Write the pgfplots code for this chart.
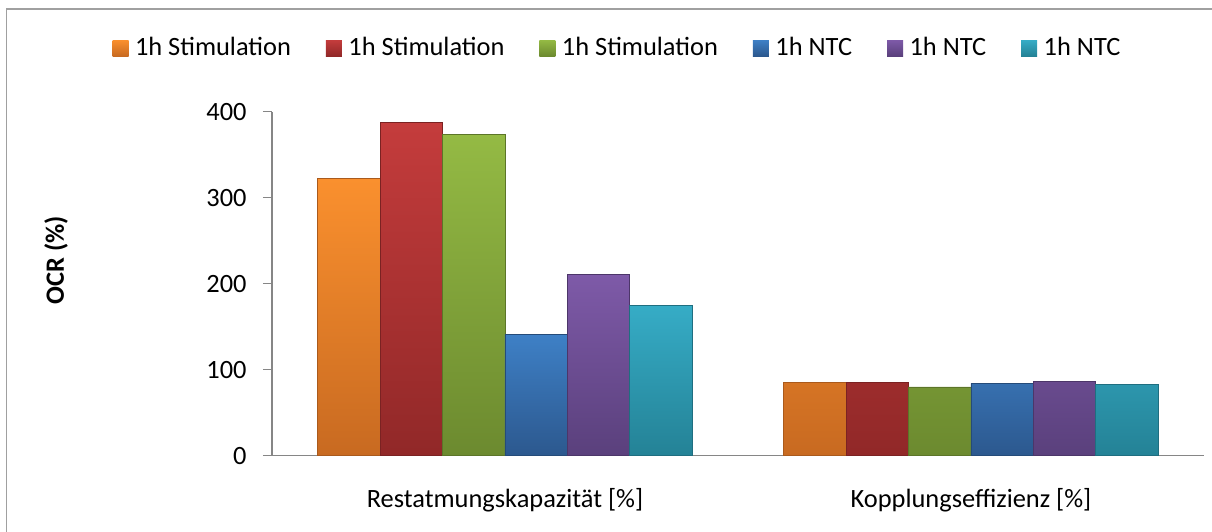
\documentclass[border=0pt]{standalone}
\usepackage{pgfplots}
\pgfplotsset{compat=1.18}
\usepackage{fontspec}
\setmainfont{Carlito}
\definecolor{framegray}{RGB}{160,160,160}
\definecolor{axgray}{RGB}{134,134,134}
\definecolor{oT}{RGB}{250,144,46}\definecolor{oB}{RGB}{200,106,33}
\definecolor{rT}{RGB}{196,60,60}\definecolor{rB}{RGB}{145,40,40}
\definecolor{gT}{RGB}{148,186,68}\definecolor{gB}{RGB}{108,138,47}
\definecolor{bT}{RGB}{62,128,198}\definecolor{bB}{RGB}{44,88,142}
\definecolor{pT}{RGB}{126,90,168}\definecolor{pB}{RGB}{90,64,124}
\definecolor{cT}{RGB}{54,172,198}\definecolor{cB}{RGB}{36,130,150}
\pgfplotstableread{
x v1 v2 v3 v4 v5 v6
0 322 387 374 141 211 175
1 85 85 80 84 86 83
}\datatable
\begin{document}
\fontsize{13.2}{15}\selectfont
\begin{tikzpicture}
\useasboundingbox (-136pt,-37.65pt) rectangle (470pt,227.85pt);
\draw[framegray, line width=0.75pt] (-132.65pt,-45pt) -- (-132.65pt,223.35pt) -- (480pt,223.35pt);
\begin{axis}[
  at={(0pt,0pt)}, anchor=south west,
  scale only axis, width=466pt, height=172pt,
  ybar=0pt, bar width=31.2pt,
  xmin=-0.5, xmax=1.5, ymin=0, ymax=400,
  xtick=data, xticklabels={Restatmungskapazität [\%], Kopplungseffizienz [\%]},
  ytick={0,100,200,300,400},
  axis x line*=bottom, axis y line*=left,
  axis line style={axgray, line width=0.75pt, -},
  xtick style={draw=none},
  ytick style={axgray, line width=0.75pt},
  tick align=outside, major tick length=4.5pt,
  /pgf/number format/assume math mode=true,
  yticklabel style={inner sep=0pt, xshift=-8pt},
  xticklabel style={anchor=base, inner sep=0pt, yshift=-21.15pt},
  ylabel={\bfseries OCR (\%)},
  ylabel style={at={(axis description cs:-0.2318,0.569)}, anchor=center},
  legend columns=6,
  legend style={at={(0.3696,1.185)}, anchor=center, draw=none, fill=none,
    nodes={inner xsep=0pt, inner ysep=1pt},
    /tikz/every odd column/.append style={column sep=3.25pt},
    /tikz/every even column/.append style={column sep=17.5pt}},
  legend image code/.code={\path[#1, draw=none] (0pt,-4pt) rectangle (8pt,4pt);},
]
\addplot[top color=oT, bottom color=oB, draw=oB!85!black, line width=0.4pt] table[x=x,y=v1]{\datatable};
\addplot[top color=rT, bottom color=rB, draw=rB!85!black, line width=0.4pt] table[x=x,y=v2]{\datatable};
\addplot[top color=gT, bottom color=gB, draw=gB!85!black, line width=0.4pt] table[x=x,y=v3]{\datatable};
\addplot[top color=bT, bottom color=bB, draw=bB!85!black, line width=0.4pt] table[x=x,y=v4]{\datatable};
\addplot[top color=pT, bottom color=pB, draw=pB!85!black, line width=0.4pt] table[x=x,y=v5]{\datatable};
\addplot[top color=cT, bottom color=cB, draw=cB!85!black, line width=0.4pt] table[x=x,y=v6]{\datatable};
\legend{1h Stimulation, 1h Stimulation, 1h Stimulation, 1h NTC, 1h NTC, 1h NTC}
\end{axis}
\end{tikzpicture}
\end{document}
